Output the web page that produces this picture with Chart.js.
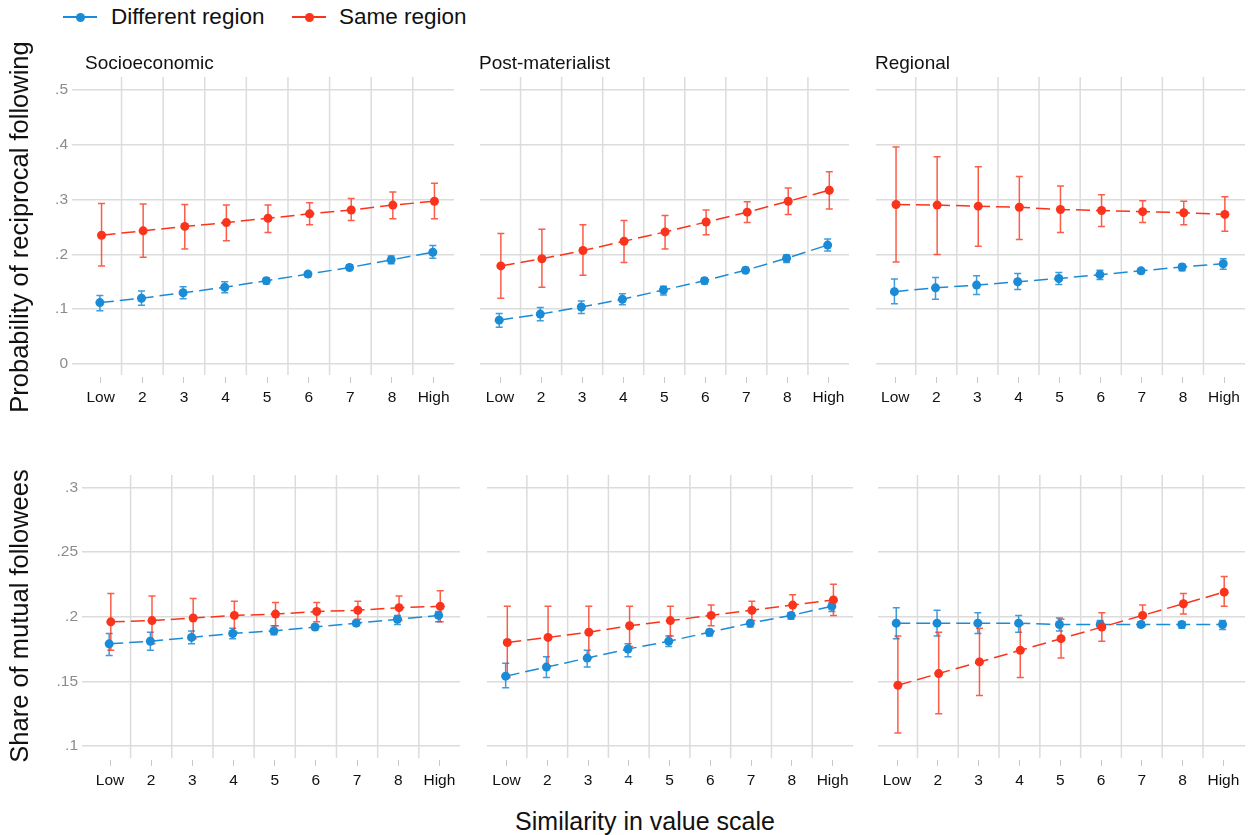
<!DOCTYPE html>
<html>
<head>
<title>Reciprocal following by similarity in value scale</title>
<script src="https://cdn.jsdelivr.net/npm/chart.js"></script>
<style>
  body { margin: 0; background: #fff; }
  #wrap { position: relative; width: 1255px; height: 835px; overflow: hidden;
          font-family: 'Liberation Sans', Arial, sans-serif; color: #111; }
  canvas { position: absolute; }
  .txt { position: absolute; line-height: 1; white-space: nowrap; z-index: 2; }
  .mk { position: absolute; width: 34px; height: 2px; }
  .mk::after { content: ''; position: absolute; left: 12.5px; top: -3.5px; width: 9px; height: 9px;
               border-radius: 50%; background: inherit; }
</style>
</head>
<body>
<div id="wrap">
  <div class="mk" style="left:63px; top:16px; background:#1a8bd6"></div>
  <div class="txt" style="left:111px; top:6px; font-size:22.5px">Different region</div>
  <div class="mk" style="left:292px; top:16px; background:#fa341c"></div>
  <div class="txt" style="left:339px; top:6px; font-size:22.5px">Same region</div>

  <div class="txt" style="left:85px; top:53px; font-size:19px">Socioeconomic</div>
  <div class="txt" style="left:479px; top:53px; font-size:19px">Post-materialist</div>
  <div class="txt" style="left:875px; top:53px; font-size:19px">Regional</div>

  <div class="txt" style="left:20px; top:227px; font-size:25.5px; transform:translate(-50%,-50%) rotate(-90deg)">Probability of reciprocal following</div>
  <div class="txt" style="left:20px; top:616px; font-size:25.5px; transform:translate(-50%,-50%) rotate(-90deg)">Share of mutual followees</div>
  <div class="txt" style="left:645px; top:809px; font-size:25px; transform:translateX(-50%)">Similarity in value scale</div>

  <canvas id="p1"></canvas><canvas id="p2"></canvas><canvas id="p3"></canvas>
  <canvas id="p4"></canvas><canvas id="p5"></canvas><canvas id="p6"></canvas>
</div>
<script>
const categories = ['Low', '2', '3', '4', '5', '6', '7', '8', 'High'];
const recipTicks = [0, 0.1, 0.2, 0.3, 0.4, 0.5];
const mutualTicks = [0.1, 0.15, 0.2, 0.25, 0.3];

// each row: [estimate, lower CI, upper CI]
const recipSocDiff = [[.112,.097,.125],[.120,.107,.133],[.130,.119,.141],[.140,.130,.150],[.152,.146,.157],[.164,.159,.168],[.176,.172,.181],[.190,.183,.197],[.204,.193,.216]];
const recipSocSame = [[.235,.179,.293],[.243,.195,.292],[.251,.210,.291],[.258,.225,.290],[.266,.240,.290],[.274,.254,.294],[.281,.262,.302],[.290,.265,.314],[.297,.265,.330]];
const recipPostDiff = [[.080,.067,.092],[.091,.079,.103],[.104,.092,.115],[.118,.108,.128],[.135,.126,.142],[.152,.146,.157],[.171,.167,.176],[.193,.185,.199],[.217,.206,.228]];
const recipPostSame = [[.179,.120,.238],[.192,.140,.246],[.207,.162,.254],[.224,.185,.262],[.241,.210,.271],[.259,.236,.281],[.277,.258,.296],[.297,.273,.321],[.317,.283,.351]];
const recipRegDiff = [[.132,.110,.155],[.139,.118,.158],[.144,.127,.161],[.150,.136,.165],[.156,.145,.167],[.163,.154,.171],[.170,.165,.174],[.177,.170,.182],[.183,.173,.192]];
const recipRegSame = [[.291,.186,.396],[.290,.200,.378],[.288,.215,.360],[.286,.227,.342],[.282,.240,.325],[.280,.251,.309],[.278,.258,.298],[.276,.254,.297],[.273,.242,.305]];

const mutualSocDiff = [[.179,.170,.187],[.181,.174,.188],[.184,.179,.189],[.187,.183,.191],[.189,.186,.193],[.192,.190,.194],[.195,.193,.197],[.198,.194,.201],[.201,.196,.204]];
const mutualSocSame = [[.196,.174,.218],[.197,.179,.216],[.199,.183,.214],[.201,.188,.212],[.202,.193,.211],[.204,.196,.211],[.205,.198,.212],[.207,.197,.216],[.208,.196,.220]];
const mutualPostDiff = [[.154,.145,.164],[.161,.153,.169],[.168,.161,.174],[.175,.169,.179],[.181,.177,.185],[.188,.185,.190],[.195,.192,.196],[.201,.198,.203],[.208,.204,.211]];
const mutualPostSame = [[.180,.153,.208],[.184,.162,.208],[.188,.168,.208],[.193,.177,.208],[.197,.185,.208],[.201,.193,.209],[.205,.197,.212],[.209,.201,.217],[.213,.201,.225]];
const mutualRegDiff = [[.195,.183,.207],[.195,.185,.205],[.195,.187,.203],[.195,.188,.201],[.194,.189,.199],[.194,.191,.197],[.194,.192,.196],[.194,.191,.196],[.194,.190,.197]];
const mutualRegSame = [[.147,.110,.185],[.156,.125,.188],[.165,.139,.191],[.174,.153,.194],[.183,.168,.198],[.192,.181,.203],[.201,.193,.209],[.210,.202,.218],[.219,.208,.231]];

const BLUE = '#1a8bd6', RED = '#fa341c';
const GRID = '#dcdcdc';

Chart.defaults.font.family = "'Liberation Sans', Arial, sans-serif";

const panels = [
  { id: 'p1', diff: recipSocDiff, same: recipSocSame, ticks: recipTicks, left: 72, right: 454, top: 77, bottom: 375, xMin: -0.69, xMax: 8.49, yMin: -0.0201, yMax: 0.5237, yw: 40 },
  { id: 'p2', diff: recipPostDiff, same: recipPostSame, ticks: recipTicks, left: 475, right: 849, top: 77, bottom: 375, xMin: -0.5, xMax: 8.5, yMin: -0.0201, yMax: 0.5237, yw: 0 },
  { id: 'p3', diff: recipRegDiff, same: recipRegSame, ticks: recipTicks, left: 871, right: 1245, top: 77, bottom: 375, xMin: -0.48, xMax: 8.51, yMin: -0.0201, yMax: 0.5237, yw: 0 },
  { id: 'p4', diff: mutualSocDiff, same: mutualSocSame, ticks: mutualTicks, left: 82, right: 460, top: 475, bottom: 758, xMin: -0.68, xMax: 8.5, yMin: 0.0907, yMax: 0.3096, yw: 44 },
  { id: 'p5', diff: mutualPostDiff, same: mutualPostSame, ticks: mutualTicks, left: 482, right: 853, top: 475, bottom: 758, xMin: -0.49, xMax: 8.5, yMin: 0.0907, yMax: 0.3096, yw: 0 },
  { id: 'p6', diff: mutualRegDiff, same: mutualRegSame, ticks: mutualTicks, left: 873, right: 1245, top: 475, bottom: 758, xMin: -0.48, xMax: 8.53, yMin: 0.0907, yMax: 0.3096, yw: 0 }
];

// vertical grid between categories + confidence intervals
const extras = {
  id: 'extras',
  beforeDatasetsDraw(chart) {
    const { ctx, chartArea: a, scales: { x, y } } = chart;
    ctx.save();
    ctx.strokeStyle = GRID;
    ctx.lineWidth = 1.5;
    for (let i = 0; i < categories.length - 1; i++) {
      const px = x.getPixelForValue(i + 0.5);
      ctx.beginPath(); ctx.moveTo(px, a.top); ctx.lineTo(px, a.bottom); ctx.stroke();
    }
    chart.data.datasets.forEach(ds => {
      ctx.strokeStyle = ds.ciColor;
      ctx.lineWidth = 1.5;
      ds.data.forEach(d => {
        const px = x.getPixelForValue(d.x);
        const t = y.getPixelForValue(d.hi), b = y.getPixelForValue(d.lo);
        ctx.beginPath();
        ctx.moveTo(px, t); ctx.lineTo(px, b);
        ctx.moveTo(px - 3.5, t); ctx.lineTo(px + 3.5, t);
        ctx.moveTo(px - 3.5, b); ctx.lineTo(px + 3.5, b);
        ctx.stroke();
      });
    });
    ctx.restore();
  }
};

function series(rows, dx) {
  return rows.map((r, i) => ({ x: i + dx, y: r[0], lo: r[1], hi: r[2] }));
}

function dataset(rows, dx, color, ci, order) {
  return {
    data: series(rows, dx),
    borderColor: color, backgroundColor: color, ciColor: ci,
    borderWidth: 1.5, borderDash: [14, 6],
    pointRadius: 4.5, pointBorderWidth: 0, pointBackgroundColor: color,
    order: order
  };
}

panels.forEach(p => {
  const cv = document.getElementById(p.id);
  const padTop = 20, padRight = 20, xh = 32;
  cv.width = Math.round(p.right - p.left + p.yw + padRight);
  cv.height = Math.round(p.bottom - p.top + padTop + xh);
  cv.style.left = (p.left - p.yw) + 'px';
  cv.style.top = (p.top - padTop) + 'px';

  new Chart(cv, {
    type: 'line',
    data: {
      datasets: [
        dataset(p.diff, -0.02, BLUE, 'rgba(26,139,214,0.85)', 1),
        dataset(p.same, 0.02, RED, 'rgba(250,52,28,0.8)', 0)
      ]
    },
    options: {
      responsive: false,
      animation: false,
      devicePixelRatio: 1,
      layout: { padding: { top: padTop, right: padRight, left: 0, bottom: 0 } },
      plugins: { legend: { display: false }, tooltip: { enabled: false } },
      scales: {
        x: {
          type: 'linear', min: p.xMin, max: p.xMax,
          afterBuildTicks: s => { s.ticks = categories.map((c, i) => ({ value: i })); },
          afterFit: s => { s.height = xh; },
          grid: { drawOnChartArea: false, drawTicks: true, tickLength: 8, color: '#c8c8c8', lineWidth: 1, tickBorderDash: [0, 2, 6, 0] },
          border: { display: false },
          ticks: { autoSkip: false, maxRotation: 0, padding: 5, color: '#111', font: { size: 15.5 },
                   callback: (v, i) => categories[i] }
        },
        y: {
          type: 'linear', min: p.yMin, max: p.yMax,
          afterBuildTicks: s => { s.ticks = p.ticks.map(v => ({ value: v })); },
          afterFit: s => { s.width = p.yw; },
          grid: { color: GRID, lineWidth: 1.5, drawTicks: false },
          border: { display: false },
          ticks: { display: p.yw > 0, padding: 4, color: '#8c8c8c', font: { size: 15.5 },
                   callback: v => v === 0 ? '0' : String(v).replace(/^0\./, '.') }
        }
      }
    },
    plugins: [extras]
  });
});
</script>
</body>
</html>
